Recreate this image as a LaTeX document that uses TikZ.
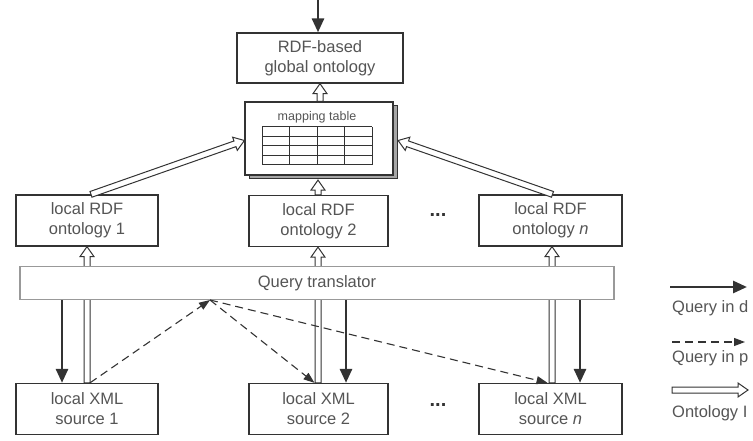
\documentclass[tikz,border=0pt]{standalone}
\usepackage{fontspec}
\setmainfont{Liberation Sans}
\usetikzlibrary{arrows.meta,positioning,calc,shadows}

\definecolor{linegray}{HTML}{333333}
\definecolor{textgray}{HTML}{555555}

% outlined block arrow between two points
\newcommand{\ontoflow}[2]{%
  \coordinate (hb) at ($(#2)!10pt!(#1)$);
  \filldraw[ontoline] ($(#1)!3pt!90:(#2)$) -- ($(hb)!3pt!90:(#2)$)
    -- ($(hb)!7pt!90:(#2)$) -- (#2) -- ($(hb)!7pt!-90:(#2)$)
    -- ($(hb)!3pt!-90:(#2)$) -- ($(#1)!3pt!-90:(#2)$) -- cycle;
}

\begin{document}
\begin{tikzpicture}[
    x=1pt, y=-1pt,
    font=\fontsize{16.5}{20}\selectfont,
    box/.style={rectangle, draw=linegray, fill=white, line width=1.3pt, align=center, text=textgray, minimum width=142pt, minimum height=51pt, inner sep=0pt},
    transbox/.style={rectangle, draw=gray!80, fill=white, line width=1.3pt, text=textgray, minimum width=594pt, minimum height=33pt, inner sep=0pt},
    tablebox/.style={rectangle, draw=linegray, fill=white, line width=1.2pt, minimum width=148pt, minimum height=73pt, inner sep=0pt, copy shadow={shadow xshift=4pt, shadow yshift=-4pt, fill=gray!70, draw=linegray, line width=1pt}},
    ontoline/.style={draw=linegray, fill=white, line width=1pt, line join=miter},
    query/.style={-{Triangle[length=14pt, width=12pt]}, line width=2.8pt, draw=linegray},
    partquery/.style={-{Triangle[length=11pt, width=8pt]}, line width=1.1pt, draw=linegray, dash pattern=on 8pt off 5pt},
    legendtext/.style={anchor=west, text=textgray, inner sep=0pt}
]
    \useasboundingbox (0,0) rectangle (753,441);

    \node [box, minimum width=166pt, minimum height=50pt] (global) at (320,58) {RDF-based\\global ontology};
    \node [tablebox] (maptab) at (319,138.5) {};
    \node [text=textgray, font=\fontsize{12.5}{14}\selectfont, inner sep=0pt] (maplabel) at (317,117) {mapping table};
    \foreach \c in {262,289.5,317,344.5,372}
        \draw [linegray, line width=1pt] (\c,127) -- (\c,165);
    \foreach \r in {127,136.5,146,155.5,165}
        \draw [linegray, line width=1pt] (262,\r) -- (372,\r);

    \node [box] (onto1) at (87,220.5) {local RDF\\ontology 1};
    \node [box, minimum width=139pt] (onto2) at (318.5,221) {local RDF\\ontology 2};
    \node [box, minimum width=143pt] (onton) at (550.5,220.5) {local RDF\\ontology \textit{n}};
    \node [text=linegray, font=\fontsize{20}{20}\selectfont\bfseries] (dotsup) at (438,215) {...};

    \node [box] (xml1) at (87,409) {local XML\\source 1};
    \node [box, minimum width=139pt] (xml2) at (318.5,409) {local XML\\source 2};
    \node [box, minimum width=143pt] (xmln) at (550.5,409) {local XML\\source \textit{n}};
    \node [text=linegray, font=\fontsize{20}{20}\selectfont\bfseries] (dotsdown) at (438,405) {...};

    % ontology flow, behind the translator
    \coordinate (o1) at (xml1.north);
    \coordinate (o2) at ($(xml2.north)+(-0.5,0)$);
    \coordinate (on) at ($(xmln.north)+(1.5,0)$);
    \ontoflow{o1}{o1 |- onto1.south}
    \ontoflow{o2}{o2 |- onto2.south}
    \ontoflow{on}{on |- onton.south}

    \node [transbox] (trans) at (317,283) {Query translator};

    % ontology flow into the mapping table
    \coordinate (m1) at ($(onto1.north)+(4,0)$);
    \coordinate (mn) at ($(onton.north)+(2,0)$);
    \ontoflow{m1}{$(maptab.west)+(0,2)$}
    \ontoflow{o2 |- onto2.north}{$(o2 |- maptab.south)+(0,4.5)$}
    \ontoflow{mn}{$(maptab.east)+(4.5,2)$}
    \ontoflow{maptab.north -| global.south}{global.south}

    % incoming query
    \coordinate (entry) at (318,0);
    \draw [query] (entry) -- (entry |- global.north);

    % query in direct mode
    \coordinate (q1) at ($(xml1.north)+(-25,0)$);
    \coordinate (q2) at ($(xml2.north)+(27.5,0)$);
    \coordinate (qn) at ($(xmln.north)+(29.5,0)$);
    \draw [query] (q1 |- trans.south) -- (q1);
    \draw [query] (q2 |- trans.south) -- (q2);
    \draw [query] (qn |- trans.south) -- (qn);

    % query in partial mode
    \coordinate (hub) at (210,300);
    \draw [partquery] ($(xml1.north)+(3,0)$) -- (hub);
    \draw [partquery] (hub) -- ($(xml2.north)+(-4,0)$);
    \draw [partquery] (hub) -- ($(xmln.north)+(-3,0)$);

    % legend
    \coordinate (l1) at (670,287);
    \coordinate (l2) at (672,342);
    \coordinate (l3) at (672,390);
    \draw [query] (l1) -- ++(77,0);
    \node [legendtext] (leg1) at (672,308) {Query in d};
    \draw [partquery] (l2) -- ++(73,0);
    \node [legendtext] (leg2) at (672,358) {Query in p};
    \coordinate (l3end) at (748,390);
    \ontoflow{l3}{l3end}
    \node [legendtext] (leg3) at (672,413) {Ontology I};
\end{tikzpicture}
\end{document}
